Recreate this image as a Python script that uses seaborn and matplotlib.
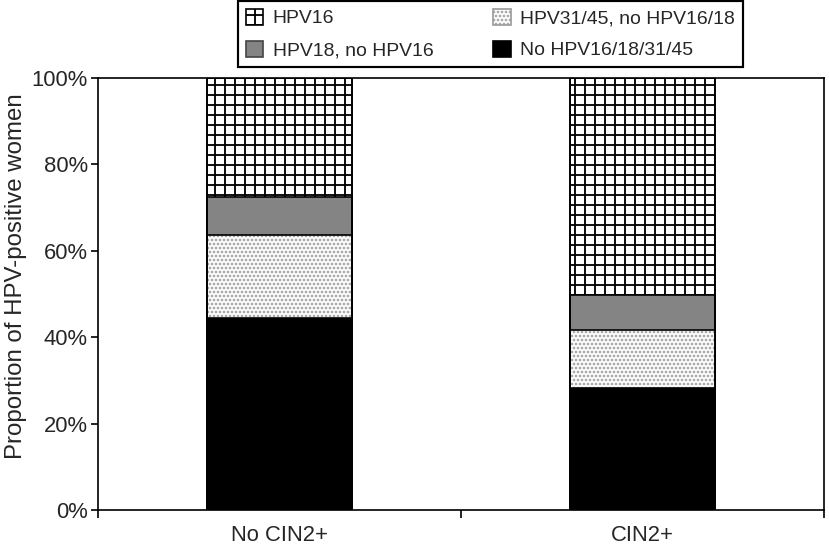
import numpy as np
import pandas as pd
import matplotlib
matplotlib.use('Agg')
import matplotlib.pyplot as plt
import seaborn as sns
from matplotlib.patches import Patch
from matplotlib.ticker import FixedLocator, FuncFormatter

# Data (percent of HPV-positive women)
groups = ['No CIN2+', 'CIN2+']
series_labels = ['HPV16', 'HPV18, no HPV16', 'HPV31/45, no HPV16/18', 'No HPV16/18/31/45']
hpv16 = [27.5, 50.2]
hpv18 = [8.8, 8.1]
hpv3145 = [19.3, 13.5]
no_type = [44.4, 28.2]

sns.set_style('white')
plt.rcParams['font.family'] = ['Liberation Sans', 'DejaVu Sans']
plt.rcParams['hatch.linewidth'] = 1.1

DPI = 120
fig = plt.figure(figsize=(829 / DPI, 549 / DPI), dpi=DPI)
ax = fig.add_axes([98 / 829, 1 - 510 / 549, 726 / 829, 432 / 549])

# cumulative tops of the stacks
df = pd.DataFrame({'group': groups, 'no': no_type, 'o3145': hpv3145,
                   'o18': hpv18, 'o16': hpv16})
df['top_no'] = df['no']
df['top_3145'] = df['top_no'] + df['o3145']
df['top_18'] = df['top_3145'] + df['o18']
df['top_16'] = df['top_18'] + df['o16']

common = dict(data=df, x='group', order=groups, width=0.4, errorbar=None,
              saturation=1, ax=ax)

sns.barplot(y='top_16', color='white', edgecolor='black', linewidth=1.0,
            hatch='++', **common)
sns.barplot(y='top_18', color='#848484', edgecolor='black', linewidth=1.0,
            **common)
sns.barplot(y='top_3145', color='white', edgecolor='#9a9a9a', linewidth=0,
            hatch='.....', **common)
sns.barplot(y='top_no', color='black', edgecolor='black', linewidth=1.0,
            **common)
# outline over everything to restore segment edges
sns.barplot(y='top_3145', fill=False, edgecolor='black', linewidth=1.0, **common)
sns.barplot(y='top_16', fill=False, edgecolor='black', linewidth=1.0, **common)

ax.set_xlim(-0.5, 1.5)
ax.set_ylim(0, 100)
ax.yaxis.set_major_locator(FixedLocator([0, 20, 40, 60, 80, 100]))
ax.yaxis.set_major_formatter(FuncFormatter(lambda v, p: f'{v:.0f}%'))
ax.xaxis.set_minor_locator(FixedLocator([-0.5, 0.5, 1.5]))
ax.tick_params(axis='x', which='major', length=0, labelsize=13.2, pad=9)
ax.tick_params(axis='x', which='minor', length=5, width=1.0, direction='out',
               color='black', bottom=True)
ax.tick_params(axis='y', length=4, width=1.0, direction='out', color='black',
               left=True, labelsize=13.2, pad=2)
ax.set_xlabel('')
ax.set_ylabel('Proportion of HPV-positive women', fontsize=14.4)
ax.yaxis.set_label_coords(-0.098, 0.542)

for s in ax.spines.values():
    s.set_visible(True)
    s.set_color('black')
    s.set_linewidth(1.0)

handles = [
    Patch(facecolor='white', edgecolor='black', hatch='++', linewidth=1.0),
    Patch(facecolor='#848484', edgecolor='#444444', linewidth=1.0),
    Patch(facecolor='white', edgecolor='#9a9a9a', hatch='.....', linewidth=1.0),
    Patch(facecolor='black', edgecolor='black', linewidth=1.0),
]
leg = fig.legend(handles, series_labels, ncol=2, mode='expand',
                 loc='center', bbox_to_anchor=(238 / 829, 1 - 71 / 549, 505 / 829, 74 / 549),
                 bbox_transform=fig.transFigure, fontsize=11.6, frameon=True,
                 fancybox=False, edgecolor='black', handlelength=0.9,
                 handleheight=0.9, handletextpad=0.5, labelspacing=0.7,
                 borderpad=0.4, borderaxespad=0)
leg.get_frame().set_linewidth(1.3)
leg.get_frame().set_alpha(1)

fig.savefig('out.png', dpi=DPI, facecolor='white')
